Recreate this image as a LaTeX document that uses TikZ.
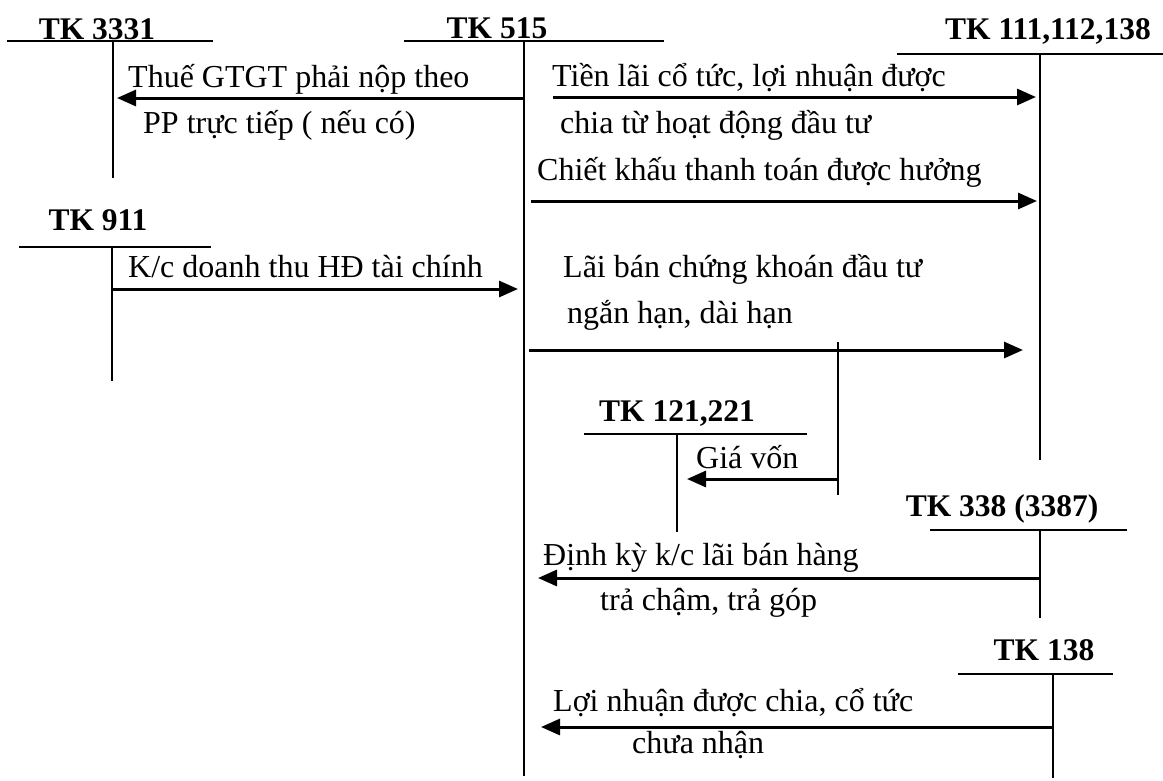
\documentclass[tikz,border=0pt]{standalone}
\usepackage{fontspec}
\setmainfont{Liberation Serif}
\usepackage{tikz}
\usetikzlibrary{arrows.meta,calc}

\begin{document}
\begin{tikzpicture}[
    x=1pt, y=-1pt,
    font=\fontsize{32}{36}\selectfont,
    acc/.style={
        font=\fontsize{31.5}{36}\selectfont\bfseries,
        inner sep=0pt,
        anchor=base
    },
    lbl/.style={
        inner sep=0pt,
        anchor=base west
    },
    tline/.style={line width=1.8pt},
    arr/.style={line width=3pt, -{Triangle[length=19pt,width=16pt]}}
]
\useasboundingbox (0,0) rectangle (1163,780);

% account headers: top row
\node[acc] (h3331) at (97,39) {TK 3331};
\node[acc] (h515) at (497,38.5) {TK 515};
\node[acc] (h111) at (1048,39) {TK 111,112,138};
\coordinate (c3331) at (113,41);
\coordinate (c515) at (524,41);
\coordinate (c111) at (1040,54);
\draw[tline] (7,41) -- (213,41);
\draw[tline] (404,41) -- (664,41);
\draw[tline] (897,54) -- (1163,54);
\draw[tline] (c3331) -- (c3331 |- 0,178);
\draw[tline] (c515) -- (c515 |- 0,776);
\draw[tline] (c111) -- (c111 |- 0,460);

% account headers: lower ones
\node[acc] (h911) at (98,230) {TK 911};
\node[acc] (h121) at (677,421) {TK 121,221};
\node[acc] (h338) at (1002,516) {TK 338 (3387)};
\node[acc] (h138) at (1044,660) {TK 138};
\coordinate (c911) at (112,247);
\coordinate (c121) at (677,434);
\coordinate (cgv) at (838,342);
\coordinate (c338) at (1040,530);
\coordinate (c138) at (1053,674);
\draw[tline] (19,247) -- (211,247);
\draw[tline] (584,434) -- (807,434);
\draw[tline] (930,530) -- (1127,530);
\draw[tline] (958,674) -- (1113,674);
\draw[tline] (c911) -- (c911 |- 0,381);
\draw[tline] (c121) -- (c121 |- 0,532);
\draw[tline] (cgv) -- (cgv |- 0,495);
\draw[tline] (c338) -- (c338 |- 0,618);
\draw[tline] (c138) -- (c138 |- 0,778);

% labels
\node[lbl] (l1a) at (128,87) {Thuế GTGT phải nộp theo};
\node[lbl] (l1b) at (143,133) {PP trực tiếp ( nếu có)};
\node[lbl] (l2a) at (552,86) {Tiền lãi cổ tức, lợi nhuận được};
\node[lbl] (l2b) at (560,133) {chia từ hoạt động đầu tư};
\node[lbl] (l3) at (537,180) {Chiết khấu thanh toán được hưởng};
\node[lbl] (l4) at (128,277) {K/c doanh thu HĐ tài chính};
\node[lbl] (l5a) at (563,277) {Lãi bán chứng khoán đầu tư};
\node[lbl] (l5b) at (567,323) {ngắn hạn, dài hạn};
\node[lbl] (l6) at (696,468) {Giá vốn};
\node[lbl] (l7a) at (543,565) {Định kỳ k/c lãi bán hàng};
\node[lbl] (l7b) at (600,610) {trả chậm, trả góp};
\node[lbl] (l8a) at (553,711) {Lợi nhuận được chia, cổ tức};
\node[lbl] (l8b) at (632,753) {chưa nhận};

% entries
\draw[arr, shorten >=4pt] (c515 |- 0,98) -- (c3331 |- 0,98);
\draw[arr, shorten <=29pt, shorten >=4pt] (c515 |- 0,97) -- (c111 |- 0,97);
\draw[arr, shorten <=7pt, shorten >=3pt] (c515 |- 0,201) -- (c111 |- 0,201);
\draw[arr, shorten >=6pt] (c911 |- 0,289) -- (c515 |- 0,289);
\draw[arr, shorten <=5pt, shorten >=17pt] (c515 |- 0,350) -- (c111 |- 0,350);
\draw[arr, shorten >=10pt] (cgv |- 0,479) -- (c121 |- 0,479);
\draw[arr, shorten >=14pt] (c338 |- 0,578) -- (c515 |- 0,578);
\draw[arr, shorten >=17pt] (c138 |- 0,727) -- (c515 |- 0,727);

\end{tikzpicture}
\end{document}
